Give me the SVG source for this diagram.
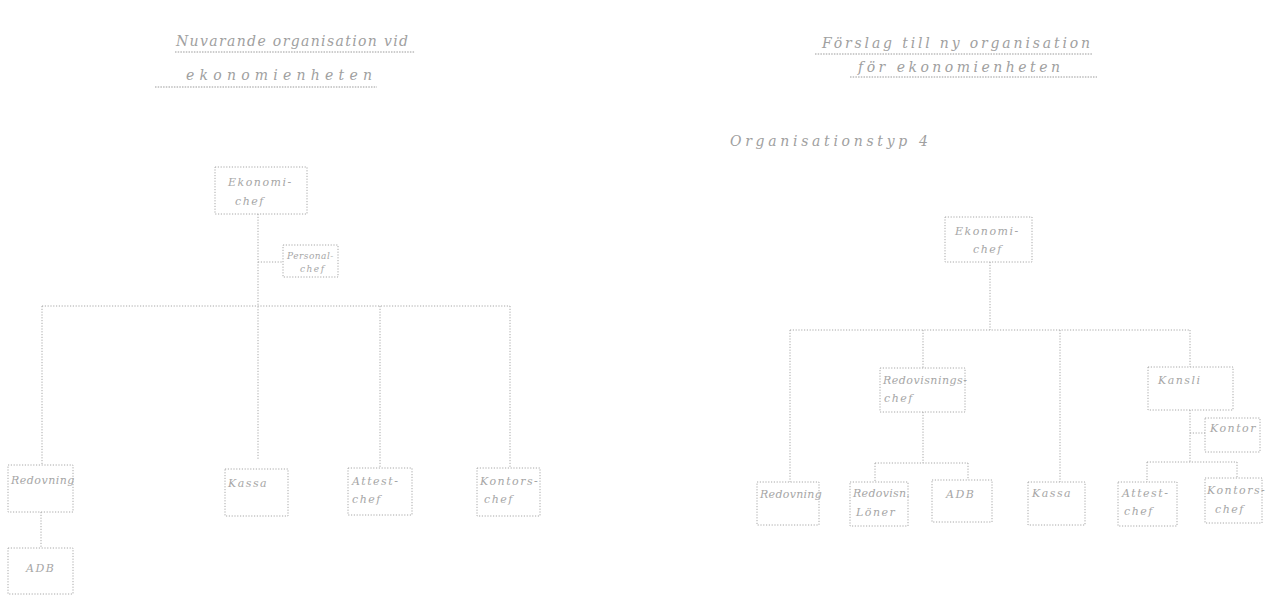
<svg xmlns="http://www.w3.org/2000/svg" width="1265" height="596" viewBox="0 0 1265 596">
  <style>
    .box { fill: none; stroke: #a8a8a8; stroke-width: 1; stroke-dasharray: 1.2 1.6; }
    .ln { fill: none; stroke: #a8a8a8; stroke-width: 1; stroke-dasharray: 1.2 1.6; }
    .ul { fill: none; stroke: #9a9a9a; stroke-width: 1; stroke-dasharray: 1.5 1.2; }
    .t { font-family: "DejaVu Serif", "Liberation Serif", serif; font-style: italic; fill: #a6a6a6; font-size: 11px; letter-spacing: 1.5px; }
    .h { font-family: "DejaVu Serif", "Liberation Serif", serif; font-style: italic; fill: #a0a0a0; font-size: 14px; letter-spacing: 2px; }
  </style>
  <rect width="1265" height="596" fill="#ffffff"/>

  <!-- headings -->
  <g id="title-left">
    <text class="h" x="176" y="46" textLength="234">Nuvarande organisation vid</text>
    <line class="ul" x1="175" y1="52" x2="415" y2="52"/>
    <text class="h" x="186" y="80" textLength="188">ekonomienheten</text>
    <line class="ul" x1="155" y1="87" x2="377" y2="87"/>
  </g>
  <g id="title-right">
    <text class="h" x="822" y="48" textLength="270">Förslag till ny organisation</text>
    <line class="ul" x1="815" y1="54" x2="1092" y2="54"/>
    <text class="h" x="858" y="72" textLength="204">för ekonomienheten</text>
    <line class="ul" x1="850" y1="77" x2="1097" y2="77"/>
    <text class="h" x="730" y="146" textLength="200">Organisationstyp  4</text>
  </g>

  <!-- connectors -->
  <g id="connectors">
    <!-- present organisation -->
    <line class="ln" x1="258" y1="214" x2="258" y2="460"/>
    <line class="ln" x1="258" y1="262" x2="283" y2="262"/>
    <line class="ln" x1="42" y1="306" x2="510" y2="306"/>
    <line class="ln" x1="42" y1="306" x2="42" y2="465"/>
    <line class="ln" x1="380" y1="306" x2="380" y2="468"/>
    <line class="ln" x1="510" y1="306" x2="510" y2="468"/>
    <line class="ln" x1="41" y1="512" x2="41" y2="548"/>
    <!-- proposed organisation -->
    <line class="ln" x1="990" y1="262" x2="990" y2="330"/>
    <line class="ln" x1="790" y1="330" x2="1190" y2="330"/>
    <line class="ln" x1="790" y1="330" x2="790" y2="482"/>
    <line class="ln" x1="923" y1="330" x2="923" y2="368"/>
    <line class="ln" x1="1060" y1="330" x2="1060" y2="482"/>
    <line class="ln" x1="1190" y1="330" x2="1190" y2="367"/>
    <line class="ln" x1="923" y1="412" x2="923" y2="463"/>
    <line class="ln" x1="875" y1="463" x2="968" y2="463"/>
    <line class="ln" x1="875" y1="463" x2="875" y2="482"/>
    <line class="ln" x1="968" y1="463" x2="968" y2="480"/>
    <line class="ln" x1="1190" y1="410" x2="1190" y2="462"/>
    <line class="ln" x1="1190" y1="433" x2="1205" y2="433"/>
    <line class="ln" x1="1147" y1="462" x2="1237" y2="462"/>
    <line class="ln" x1="1147" y1="462" x2="1147" y2="482"/>
    <line class="ln" x1="1237" y1="462" x2="1237" y2="478"/>
  </g>

  <!-- present organisation nodes -->
  <g id="l-ekonomichef">
    <rect class="box" x="215" y="167" width="92" height="47"/>
    <text class="t" x="228" y="186">Ekonomi-</text>
    <text class="t" x="235" y="205">chef</text>
  </g>
  <g id="l-personal">
    <rect class="box" x="283" y="245" width="55" height="32"/>
    <text class="t" x="287" y="259" style="font-size:9px;letter-spacing:0.5px">Personal-</text>
    <text class="t" x="300" y="272" style="font-size:9px">chef</text>
  </g>
  <g id="l-redovning">
    <rect class="box" x="8" y="465" width="65" height="47"/>
    <text class="t" x="11" y="484" style="letter-spacing:0.5px">Redovning</text>
  </g>
  <g id="l-adb">
    <rect class="box" x="8" y="548" width="65" height="46"/>
    <text class="t" x="26" y="572">ADB</text>
  </g>
  <g id="l-kassa">
    <rect class="box" x="225" y="469" width="63" height="47"/>
    <text class="t" x="228" y="487">Kassa</text>
  </g>
  <g id="l-attest">
    <rect class="box" x="348" y="468" width="64" height="47"/>
    <text class="t" x="352" y="485">Attest-</text>
    <text class="t" x="352" y="503">chef</text>
  </g>
  <g id="l-kontors">
    <rect class="box" x="477" y="468" width="63" height="48"/>
    <text class="t" x="480" y="485">Kontors-</text>
    <text class="t" x="484" y="503">chef</text>
  </g>

  <!-- proposed organisation nodes -->
  <g id="r-ekonomichef">
    <rect class="box" x="945" y="217" width="87" height="45"/>
    <text class="t" x="955" y="235">Ekonomi-</text>
    <text class="t" x="973" y="253">chef</text>
  </g>
  <g id="r-redovisningschef">
    <rect class="box" x="880" y="368" width="85" height="44"/>
    <text class="t" x="883" y="384" style="letter-spacing:0.5px">Redovisnings-</text>
    <text class="t" x="884" y="402">chef</text>
  </g>
  <g id="r-kansli">
    <rect class="box" x="1148" y="367" width="85" height="43"/>
    <text class="t" x="1158" y="384">Kansli</text>
  </g>
  <g id="r-kontor">
    <rect class="box" x="1205" y="418" width="55" height="34"/>
    <text class="t" x="1210" y="432">Kontor</text>
  </g>
  <g id="r-redovning">
    <rect class="box" x="757" y="482" width="62" height="43"/>
    <text class="t" x="760" y="498" style="letter-spacing:0.3px">Redovning</text>
  </g>
  <g id="r-loner">
    <rect class="box" x="850" y="482" width="58" height="44"/>
    <text class="t" x="853" y="497" style="letter-spacing:0.3px">Redovisn.</text>
    <text class="t" x="856" y="516">Löner</text>
  </g>
  <g id="r-adb">
    <rect class="box" x="932" y="480" width="60" height="42"/>
    <text class="t" x="946" y="498">ADB</text>
  </g>
  <g id="r-kassa">
    <rect class="box" x="1028" y="482" width="57" height="43"/>
    <text class="t" x="1032" y="497">Kassa</text>
  </g>
  <g id="r-attest">
    <rect class="box" x="1118" y="482" width="59" height="44"/>
    <text class="t" x="1122" y="497">Attest-</text>
    <text class="t" x="1124" y="515">chef</text>
  </g>
  <g id="r-kontors">
    <rect class="box" x="1205" y="478" width="57" height="45"/>
    <text class="t" x="1207" y="494">Kontors-</text>
    <text class="t" x="1215" y="513">chef</text>
  </g>
</svg>
